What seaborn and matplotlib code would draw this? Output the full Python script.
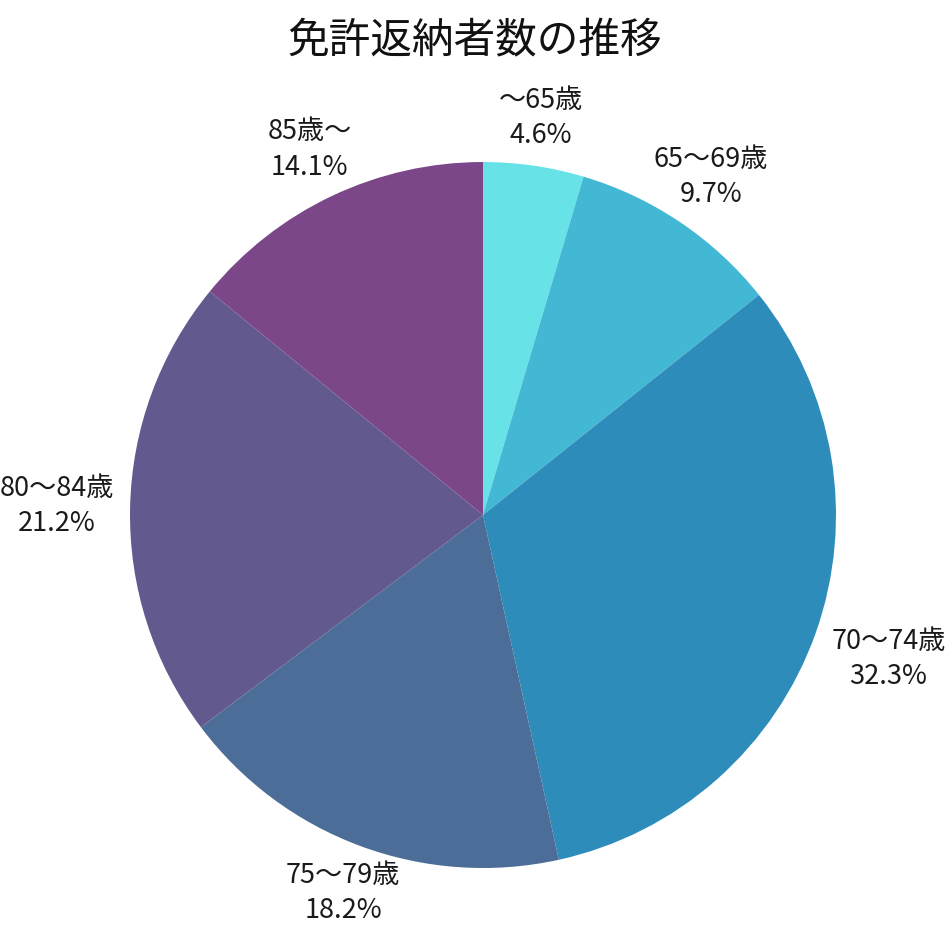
import matplotlib
matplotlib.use("Agg")
import matplotlib.pyplot as plt
import matplotlib.transforms as mtransforms
import numpy as np
import seaborn as sns

sns.set_theme(style="white")
plt.rcParams['font.family'] = ['Noto Sans CJK JP', 'DejaVu Sans']

# data
categories = ['～65歳', '65～69歳', '70～74歳', '75～79歳', '80～84歳', '85歳～']
shares = [4.6, 9.7, 32.3, 18.2, 21.2, 14.1]
colors = ['#67E3E8', '#42B8D4', '#2E8CBB', '#4C6D97', '#625A8E', '#7C4788']

labels = [f"{c}\n{v}%" for c, v in zip(categories, shares)]

fig = plt.figure(figsize=(9.5, 9.5), dpi=100)
r = 353 / 950
cx, cy = 483 / 950, 1 - 515 / 950
ax = fig.add_axes([cx - r, cy - r, 2 * r, 2 * r])

wedges, texts = ax.pie(shares, labels=labels, colors=colors, startangle=90,
                       counterclock=False, labeldistance=1.035,
                       wedgeprops=dict(linewidth=0),
                       textprops=dict(fontsize=19.5, color='#1a1a1a',
                                      linespacing=1.4))

ax.set_xlim(-1, 1)
ax.set_ylim(-1, 1)
ax.set_aspect('equal')
ax.axis('off')

# move each label box outward along its ray until the anchor sits on the box edge
for t in texts:
    t.set_ha('center')
    t.set_va('center')
fig.canvas.draw()
renderer = fig.canvas.get_renderer()
pad = 4
for t in texts:
    x, y = t.get_position()
    ang = np.arctan2(y, x)
    vx, vy = np.cos(ang), np.sin(ang)
    bb = t.get_window_extent(renderer)
    hw, hh = bb.width / 2 + pad, bb.height / 2 + pad
    reach = min(hw / max(abs(vx), 1e-6), hh / max(abs(vy), 1e-6))
    t.set_transform(mtransforms.offset_copy(ax.transData, fig=fig,
                                            x=reach * vx, y=reach * vy,
                                            units='dots'))

fig.text(0.5, 1 - 42 / 950, '免許返納者数の推移', ha='center', va='center',
         fontsize=30, fontweight='normal', color='#111111')

fig.savefig('out.png', dpi=100, facecolor='white')
